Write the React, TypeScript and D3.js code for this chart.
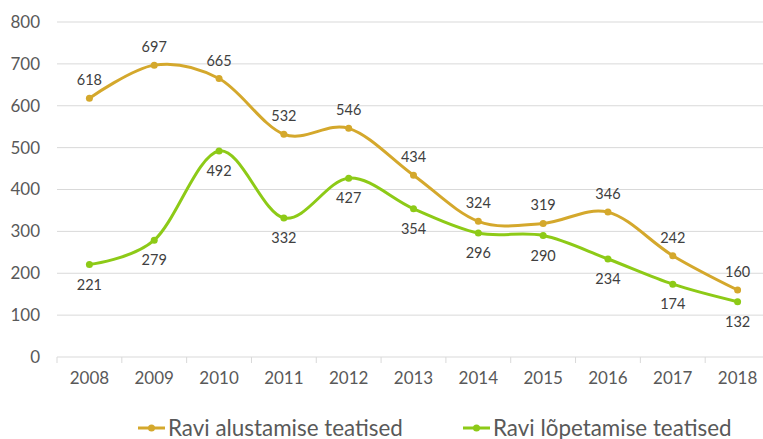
import React from "react";
import * as d3 from "d3";

const years = ["2008","2009","2010","2011","2012","2013","2014","2015","2016","2017","2018"];
const alustamise = [618, 697, 665, 532, 546, 434, 324, 319, 346, 242, 160];
const lopetamise = [221, 279, 492, 332, 427, 354, 296, 290, 234, 174, 132];
const yTicks = [0, 100, 200, 300, 400, 500, 600, 700, 800];
const seriesNames = ["Ravi alustamise teatised", "Ravi lõpetamise teatised"];

const W = 763, H = 439;
const left = 57, right = 770, top = 22, bottom = 357;
const gold = "#D4A82C", green = "#8DCA17";
const font = "Lato, 'Open Sans', sans-serif";

export default function App() {
  const x = d3.scaleBand<string>().domain(years).range([left, right]);
  const y = d3.scaleLinear().domain([0, 800]).range([bottom, top]);
  const cx = (i: number) => (x(years[i]) as number) + x.bandwidth() / 2;
  const line = d3.line<number>().x((_, i) => cx(i)).y(d => y(d)).curve(d3.curveCatmullRom.alpha(0));
  const series = [
    { name: seriesNames[0], data: alustamise, color: gold, dy: -18 },
    { name: seriesNames[1], data: lopetamise, color: green, dy: 20 },
  ];
  const ticksX = years.map(yr => x(yr) as number).concat([right]);
  return (
    <svg width={W} height={H} style={{ position: "absolute", left: 0, top: 0 }}>
      <rect width={W} height={H} fill="#fff" />
      {yTicks.map(t => (
        <g key={t}>
          <line x1={left} x2={right} y1={y(t)} y2={y(t)} stroke="#D9D9D9" strokeWidth={1} />
          <text x={40} y={y(t)} dy="0.35em" textAnchor="end" fontSize={17} fill="#595959" fontFamily={font}>{t}</text>
        </g>
      ))}
      {ticksX.map((tx, i) => (
        <line key={i} x1={tx} x2={tx} y1={bottom} y2={bottom + 6} stroke="#D9D9D9" />
      ))}
      {years.map((yr, i) => (
        <text key={yr} x={cx(i)} y={384} textAnchor="middle" fontSize={17} fill="#595959" fontFamily={font}>{yr}</text>
      ))}
      {series.map(s => (
        <g key={s.name}>
          <path d={line(s.data) || ""} fill="none" stroke={s.color} strokeWidth={3} />
          {s.data.map((v, i) => (
            <circle key={i} cx={cx(i)} cy={y(v)} r={3.5} fill={s.color} />
          ))}
          {s.data.map((v, i) => (
            <text key={"l" + i} x={cx(i)} y={y(v) + s.dy} dy="0.35em" textAnchor="middle" fontSize={14.5} fill="#404040" fontFamily={font}>{v}</text>
          ))}
        </g>
      ))}
      {series.map((s, k) => {
        const lx = k === 0 ? 138 : 463;
        return (
          <g key={"lg" + k}>
            <line x1={lx} x2={lx + 27} y1={428} y2={428} stroke={s.color} strokeWidth={3} />
            <circle cx={lx + 13.5} cy={428} r={3.5} fill={s.color} />
            <text x={lx + 30} y={428} dy="0.35em" fontSize={22.4} fill="#595959" fontFamily={font}>{s.name}</text>
          </g>
        );
      })}
    </svg>
  );
}
